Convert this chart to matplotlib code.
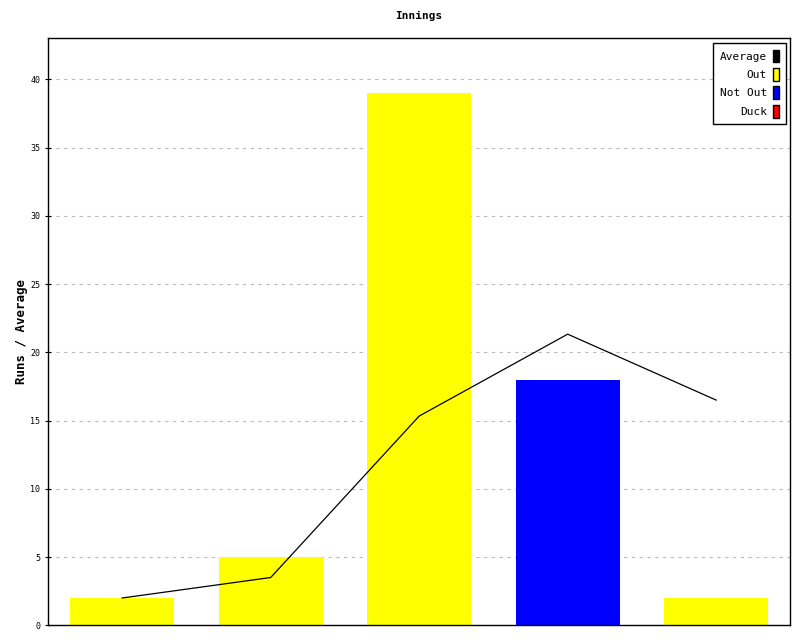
import matplotlib

matplotlib.use('Agg')
import matplotlib.pyplot as plt
from matplotlib.patches import Patch

plt.rcParams['font.family'] = 'DejaVu Sans Mono'

innings = [1, 2, 3, 4, 5]
runs = [2, 5, 39, 18, 2]
bar_colors = ['yellow', 'yellow', 'yellow', 'blue', 'yellow']
average = [2, 3.5, 15.33, 21.33, 16.5]
y_ticks = [0, 5, 10, 15, 20, 25, 30, 35, 40]

fig = plt.figure(figsize=(8, 6.4), dpi=100)
ax = fig.add_axes([0.06, 0.023, 0.928, 0.917])

ax.bar(innings, runs, width=0.7, color=bar_colors, zorder=2)
ax.plot(innings, average, color='black', linewidth=0.9, zorder=3)

ax.set_xlim(0.5, 5.5)
ax.set_ylim(0, 43)
ax.set_xticks([])
ax.set_yticks(y_ticks)
ax.tick_params(axis='y', labelsize=6, length=4, direction='inout')
ax.grid(axis='y', color='#bbbbbb', linestyle=(0, (3, 4)), linewidth=0.8, zorder=0)
for s in ax.spines.values():
    s.set_linewidth(1.0)

ax.set_title('Innings', fontsize=8, fontweight='bold', pad=14)
ax.set_ylabel('Runs / Average', fontsize=9, fontweight='bold', labelpad=2)

handles = [Patch(facecolor='black', edgecolor='black', label='Average'),
           Patch(facecolor='yellow', edgecolor='black', label='Out'),
           Patch(facecolor='blue', edgecolor='black', label='Not Out'),
           Patch(facecolor='red', edgecolor='black', label='Duck')]
leg = ax.legend(handles=handles, loc='upper right', markerfirst=False, fontsize=8,
                handlelength=0.6, handleheight=1.4, handletextpad=0.5,
                labelspacing=0.5, borderpad=0.6, borderaxespad=0.4, fancybox=False,
                edgecolor='black', framealpha=1)
leg.get_frame().set_linewidth(1.0)
for t in leg.get_texts():
    t.set_ha('right')

fig.savefig('out.png')
